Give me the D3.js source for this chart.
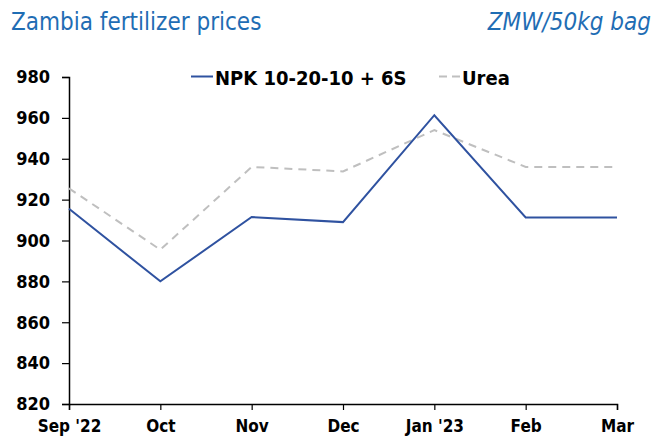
<!DOCTYPE html>
<html><head><meta charset="utf-8">
<script src="https://cdn.jsdelivr.net/npm/d3@7"></script>
<style>body{margin:0;background:#fff}svg{display:block}</style>
</head><body>
<script>
const months = ["Sep '22","Oct","Nov","Dec","Jan '23","Feb","Mar"];
const npk = [915.5, 880, 911.5, 909, 961.3, 911.3, 911.3];
const urea = [925.5, 895.5, 936, 933.8, 954, 936, 936];
const yTicks = [820,840,860,880,900,920,940,960,980];
const seriesNames = ["NPK 10-20-10 + 6S","Urea"];

const W=654,H=437;
const font = "'DejaVu Sans Condensed', 'DejaVu Sans', sans-serif";
const svg = d3.select("body").append("svg").attr("width",W).attr("height",H);
const x = d3.scalePoint().domain(months).range([69,617]);
const y = d3.scaleLinear().domain([820,980]).range([404,77]);

svg.append("text").attr("x",11).attr("y",30).attr("fill","#1F6DB4")
  .style("font-family",font).style("font-size","24px").text("Zambia fertilizer prices");
svg.append("text").attr("x",651).attr("y",30).attr("text-anchor","end").attr("fill","#1F6DB4")
  .style("font-family",font).style("font-size","24px").style("font-style","italic").text("ZMW/50kg bag");

const ya = svg.append("g").attr("transform","translate(69,0)")
  .call(d3.axisLeft(y).tickValues(yTicks).tickSize(7).tickPadding(12).tickFormat(d3.format("d")));
const xa = svg.append("g").attr("transform","translate(0,404)")
  .call(d3.axisBottom(x).tickSize(6).tickPadding(10));
[ya,xa].forEach(a=>{
  a.select(".domain").attr("stroke","#000").attr("stroke-width",1.5);
  a.selectAll(".tick line").attr("stroke","#000").attr("stroke-width",1.2);
  a.selectAll("text").attr("fill","#000").style("font-family",font).style("font-weight","bold");
});
ya.selectAll("text").style("font-size","18px");
xa.selectAll("text").style("font-size","17px");

const line = d3.line().x((d,i)=>x(months[i])).y(d=>y(d));
svg.append("path").datum(urea).attr("d",line).attr("fill","none")
  .attr("stroke","#BFBFBF").attr("stroke-width",2).attr("stroke-dasharray","8,6");
svg.append("path").datum(npk).attr("d",line).attr("fill","none")
  .attr("stroke","#2F52A0").attr("stroke-width",2);

// legend
const lg = svg.append("g");
lg.append("line").attr("x1",191).attr("x2",213).attr("y1",76.5).attr("y2",76.5).attr("stroke","#2F52A0").attr("stroke-width",2);
lg.append("text").attr("x",215).attr("y",85).text(seriesNames[0]);
lg.append("line").attr("x1",439).attr("x2",461).attr("y1",76.5).attr("y2",76.5).attr("stroke","#BFBFBF").attr("stroke-width",2).attr("stroke-dasharray","8,5");
lg.append("text").attr("x",462).attr("y",85).text(seriesNames[1]);
lg.selectAll("text").attr("fill","#000").style("font-family",font).style("font-size","20px").style("font-weight","bold");
</script>
</body></html>
